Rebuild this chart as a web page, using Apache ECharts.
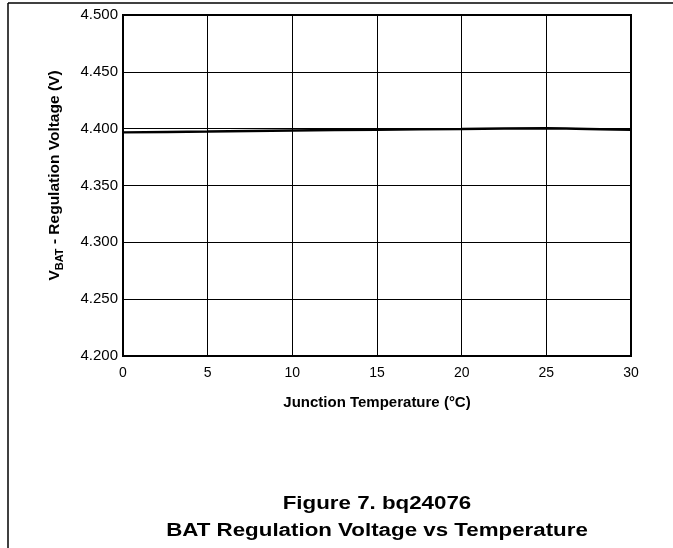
<!DOCTYPE html>
<html>
<head>
<meta charset="utf-8">
<script src="https://cdn.jsdelivr.net/npm/echarts@6/dist/echarts.min.js"></script>
<style>
html,body{margin:0;padding:0;background:#fff;}
#chart{width:673px;height:548px;}
</style>
</head>
<body>
<div id="chart"></div>
<script>
// Data
var temperatures = [0, 5, 10, 15, 20, 25, 30];          // Junction temperature (°C)
var regulationVoltage = [4.3967, 4.3975, 4.3984, 4.3991, 4.3997, 4.4004, 4.3989]; // V
var yTicks = { min: 4.2, max: 4.5, interval: 0.05 };
var xTicks = { min: 0, max: 30, interval: 5 };
var captionLines = ['Figure 7. bq24076', 'BAT Regulation Voltage vs Temperature'];

var FONT = '"Liberation Sans", Arial, sans-serif';
var chart = echarts.init(document.getElementById('chart'), null, { renderer: 'canvas' });

var seriesData = temperatures.map(function (t, i) { return [t, regulationVoltage[i]]; });

chart.setOption({
  animation: false,
  backgroundColor: '#fff',
  textStyle: { fontFamily: FONT, color: '#000' },
  grid: {
    left: 123, top: 15, width: 508, height: 341,
    show: true, borderColor: '#000', borderWidth: 2, backgroundColor: 'transparent'
  },
  xAxis: {
    type: 'value',
    min: xTicks.min, max: xTicks.max, interval: xTicks.interval,
    name: 'Junction Temperature (°C)',
    nameLocation: 'middle',
    nameGap: 39,
    nameTextStyle: { fontFamily: FONT, fontWeight: 'bold', fontSize: 15, color: '#000' },
    axisLine: { show: true, lineStyle: { color: '#000', width: 2 } },
    axisTick: { show: false },
    axisLabel: { fontFamily: FONT, fontSize: 14, color: '#000', margin: 10 },
    splitLine: { show: true, lineStyle: { color: '#000', width: 1 } }
  },
  yAxis: {
    type: 'value',
    min: yTicks.min, max: yTicks.max, interval: yTicks.interval,
    name: '{v|V}{sub|BAT}{v| - Regulation Voltage (V)}',
    nameLocation: 'middle',
    nameRotate: 90,
    nameGap: 58,
    nameTextStyle: {
      padding: [0, 0, 0, 20],
      rich: {
        v: { fontFamily: FONT, fontWeight: 'bold', fontSize: 15.5, color: '#000', lineHeight: 20, verticalAlign: 'middle' },
        sub: { fontFamily: FONT, fontWeight: 'bold', fontSize: 11, color: '#000', lineHeight: 11, verticalAlign: 'bottom' }
      }
    },
    axisLine: { show: true, lineStyle: { color: '#000', width: 2 } },
    axisTick: { show: false },
    axisLabel: {
      fontFamily: FONT, fontSize: 15, color: '#000', margin: 5,
      formatter: function (v) { return v.toFixed(3); }
    },
    splitLine: { show: true, lineStyle: { color: '#000', width: 1 } }
  },
  series: [{
    type: 'line',
    data: seriesData,
    showSymbol: false,
    smooth: 0.2,
    lineStyle: { color: '#000', width: 2.4 }
  }],
  graphic: [
    { type: 'line', silent: true, shape: { x1: 8, y1: 3, x2: 673, y2: 3 }, style: { stroke: '#000', lineWidth: 1.5 } },
    { type: 'line', silent: true, shape: { x1: 8, y1: 3, x2: 8, y2: 548 }, style: { stroke: '#000', lineWidth: 1.5 } },
    { type: 'text', x: 377, y: 504, scaleX: 1.24, silent: true,
      style: { text: captionLines[0], font: 'bold 18px ' + FONT, fill: '#000', textAlign: 'center', textVerticalAlign: 'middle' } },
    { type: 'text', x: 377, y: 531, scaleX: 1.24, silent: true,
      style: { text: captionLines[1], font: 'bold 18px ' + FONT, fill: '#000', textAlign: 'center', textVerticalAlign: 'middle' } }
  ]
});
</script>
</body>
</html>
